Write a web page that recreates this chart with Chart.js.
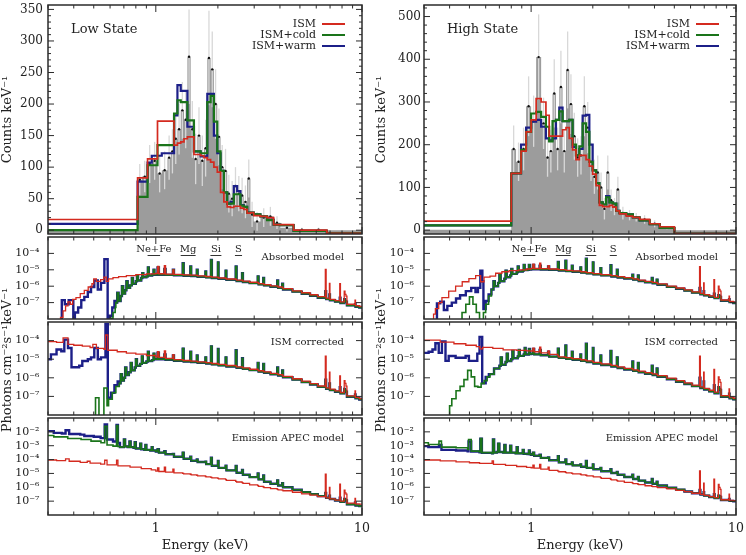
<!DOCTYPE html>
<html><head><meta charset="utf-8">
<script src="https://cdn.jsdelivr.net/npm/chart.js@4.4.1/dist/chart.umd.min.js"></script>
<style>
html,body{margin:0;padding:0;background:#fff;}
#wrap{position:relative;width:746px;height:555px;overflow:hidden;font-family:'DejaVu Serif',serif;color:#222;}
.pane{position:absolute;}
</style></head>
<body><div id="wrap"></div>
<script>
// ---------------- DATA: top panels (counts keV^-1) ----------------
const lowEdges = [0.3,0.816,0.856,0.912,0.956,1.019,1.069,1.139,1.182,1.226,1.273,1.321,1.370,1.423,1.476,1.531,1.590,1.650,1.712,1.777,1.844,1.913,1.987,2.061,2.138,2.220,2.303,2.389,2.481,2.574,2.670,2.773,2.877,2.985,3.216,3.464,3.728,4.017,4.657,5.609,6.753,10];
const lowData  = [1,80,85,105,110,90,95,115,125,145,160,190,175,275,160,113,150,110,130,273,255,200,148,100,94,58,50,70,58,55,45,82,25,14,20,22,12,4,1,1,0];
const lowErr   = [0,25,25,30,30,30,30,35,35,40,40,45,45,75,45,40,45,40,45,75,60,55,45,35,35,30,28,30,28,28,26,30,20,15,15,15,10,6,3,3,0];
const lowIsm   = [17,83,83,113,113,173,173,173,173,135,138,140,145,148,148,120,120,118,115,112,108,100,92,60,45,37,36,38,38,35,33,27,28,23,22,20,9,9,0,0,-5];
const lowCold  = [0,53,53,103,103,135,135,135,135,185,206,203,203,174,174,125,125,122,122,203,213,172,125,94,60,42,42,57,57,39,37,28,28,25,22,16,9,8,-1,-1,-5];
const lowWarm  = [10,77,77,107,118,118,122,122,122,182,230,221,221,164,164,125,125,117,117,216,216,150,122,94,60,42,45,70,62,40,37,28,28,25,22,17,9,8,-1,-1,-5];

const highEdges = [0.3,0.800,0.844,0.893,0.945,1.000,1.058,1.119,1.181,1.225,1.272,1.322,1.372,1.424,1.480,1.535,1.594,1.656,1.719,1.784,1.854,1.924,1.997,2.076,2.154,2.236,2.323,2.412,2.503,2.602,2.700,2.913,3.137,3.383,3.788,4.242,5.006,10];
const highData = [1,190,160,190,290,255,405,250,170,185,320,190,335,185,375,295,220,170,175,290,240,160,125,135,100,50,135,70,55,95,40,35,30,25,15,5,0];
const highErr  = [0,55,45,50,70,60,100,60,45,50,80,50,85,50,90,70,55,45,45,70,60,45,40,40,35,25,40,25,20,30,15,12,10,10,8,4,0];
const highIsm  = [21,133,133,185,230,258,308,300,269,220,220,220,220,235,240,215,188,165,175,175,165,150,131,104,58,55,55,58,54,45,38,33,30,25,15,8,-8];
const highCold = [11,133,133,188,230,273,277,265,242,208,255,258,278,255,255,258,200,175,196,250,230,160,140,110,65,60,77,65,62,45,40,37,30,23,14,5,-8];
const highWarm = [11,133,133,200,240,254,258,242,215,210,215,258,287,255,255,258,195,175,190,268,270,200,140,110,65,60,80,65,62,45,40,37,30,23,14,5,-8];

// ---------------- DATA: model spectra, log10(photons cm^-2 s^-1 keV^-1) ----------------
const lineE = [1.00,1.02,1.035,1.10,1.115,1.21,1.225,1.35,1.365,1.47,1.485,1.58,1.595,1.74,1.755,1.85,1.87,2.00,2.015,2.18,2.20,2.44,2.465,2.62,2.645,2.85,3.12,3.15,3.32,3.35,3.6,3.88,3.92,4.10,4.14,4.6,5.1,5.6,6.1,6.64,6.70,6.95,6.99,7.4,7.8,7.86,8.2,8.27,8.36,8.45,9.25,9.3,9.7,10.0];

const absLow_ismE  = [0.3,0.345,0.355,0.365,0.375,0.385,0.395,0.41,0.43,0.45,0.47,0.49,0.50,0.515,0.54,0.56,0.575,0.59,0.62,0.66,0.72,0.8,0.9];
const absLow_ismV  = [-9,-7.9,-7.5,-7.2,-6.95,-7.1,-6.8,-6.7,-6.45,-6.25,-6.05,-5.85,-5.55,-5.7,-5.6,-5.45,-5.7,-5.55,-5.48,-5.42,-5.36,-5.3,-5.25];
const absLow_warmE = [0.3,0.35,0.362,0.378,0.398,0.405,0.42,0.435,0.45,0.468,0.485,0.503,0.523,0.542,0.563,0.584,0.60,0.615,0.63];
const absLow_warmV = [-9,-6.85,-7.1,-6.85,-9,-7.6,-7.3,-6.85,-6.65,-6.35,-6.05,-5.65,-6.2,-5.8,-4.35,-9,-7.8,-7.3,-6.9];
const absLow_coldE = [0.3,0.605,0.62,0.635];
const absLow_coldV = [-9,-7.95,-7.6,-7.3];
const absLow_midE  = [0.64,0.65,0.66,0.675,0.685,0.695,0.71,0.72,0.73,0.75,0.765,0.775,0.80,0.81,0.82,0.85,0.86,0.87,0.90,0.915,0.925,0.96,0.975,0.985];
const absLow_midV  = [-7.0,-6.4,-6.9,-6.6,-6.0,-6.45,-6.25,-5.7,-6.1,-5.95,-5.5,-5.85,-5.7,-5.35,-5.65,-5.5,-5.2,-5.45,-5.4,-4.85,-5.35,-5.3,-5.0,-5.3];
const absLow_darkV = [-5.30,-4.85,-5.30,-4.95,-5.31,-5.0,-5.33,-4.6,-5.36,-4.8,-5.38,-5.0,-5.42,-5.1,-5.46,-4.4,-5.5,-4.55,-5.55,-5.05,-5.61,-4.8,-5.68,-5.2,-5.74,-5.81,-5.4,-5.89,-5.5,-5.95,-6.03,-5.65,-6.1,-5.85,-6.2,-6.33,-6.46,-6.58,-6.7,-6.3,-6.79,-6.5,-6.86,-6.94,-6.7,-7.02,-6.8,-6.9,-6.95,-7.17,-7.1,-7.25,-7.3,-7.33];
const absLow_redV  = [-5.22,-4.8,-5.24,-4.75,-5.26,-5.0,-5.28,-5.3,-5.31,-5.32,-5.33,-5.34,-5.37,-5.4,-5.41,-5.42,-5.45,-5.46,-5.5,-5.52,-5.56,-5.58,-5.63,-5.65,-5.69,-5.76,-5.78,-5.84,-5.86,-5.9,-5.98,-6.0,-6.05,-6.07,-6.15,-6.28,-6.4,-6.52,-6.64,-4.97,-6.73,-5.83,-6.8,-6.88,-5.85,-6.96,-6.3,-6.5,-6.6,-7.1,-6.85,-7.18,-7.23,-7.26];

const corLow_ismE  = [0.3,0.33,0.355,0.375,0.40,0.44,0.48,0.495,0.515,0.56,0.57,0.585,0.65,0.72,0.80,0.90];
const corLow_ismV  = [-4.05,-4.1,-3.85,-4.2,-4.25,-4.3,-4.37,-4.2,-4.42,-4.47,-3.7,-4.52,-4.6,-4.67,-4.73,-4.8];
const corLow_warmE = [0.3,0.31,0.33,0.348,0.36,0.375,0.39,0.425,0.44,0.468,0.485,0.503,0.523,0.542,0.57,0.585,0.606,0.63,0.653];
const corLow_warmV = [-5.0,-4.74,-4.48,-4.57,-3.95,-4.4,-5.43,-5.35,-5.1,-5.0,-4.9,-4.4,-5.0,-4.9,-3.1,-7.07,-6.8,-6.4,-6.2];
const corLow_coldE = [0.3,0.51,0.53,0.56,0.58,0.59,0.615,0.64];
const corLow_coldV = [-9,-7.07,-9,-6.55,-7.5,-7.15,-6.8,-6.47];
const corLow_midE  = [0.665,0.675,0.685,0.70,0.71,0.72,0.74,0.755,0.765,0.79,0.80,0.81,0.84,0.855,0.865,0.90,0.915,0.925,0.96,0.975,0.985];
const corLow_midV  = [-6.3,-5.8,-6.15,-6.0,-5.45,-5.85,-5.7,-5.2,-5.6,-5.45,-5.0,-5.35,-5.25,-4.85,-5.2,-5.12,-4.6,-5.1,-5.05,-4.7,-5.0];
const corLow_darkV = [-5.0,-4.65,-5.0,-4.75,-5.03,-4.8,-5.08,-4.43,-5.12,-4.6,-5.15,-4.8,-5.19,-4.9,-5.23,-4.31,-5.28,-4.45,-5.33,-4.9,-5.39,-4.52,-5.46,-4.95,-5.52,-5.59,-5.2,-5.67,-5.25,-5.73,-5.81,-5.45,-5.88,-5.6,-5.97,-6.1,-6.23,-6.36,-6.49,-6.1,-6.59,-6.3,-6.66,-6.75,-6.5,-6.84,-6.6,-6.7,-6.75,-7.02,-6.9,-7.1,-7.17,-7.2];
const corLow_redV  = [-4.87,-4.6,-4.9,-4.55,-4.96,-4.75,-5.02,-5.05,-5.07,-5.09,-5.1,-5.12,-5.14,-5.16,-5.18,-5.2,-5.23,-5.25,-5.28,-5.3,-5.34,-5.36,-5.41,-5.43,-5.47,-5.54,-5.57,-5.62,-5.64,-5.68,-5.76,-5.79,-5.83,-5.85,-5.92,-6.05,-6.18,-6.31,-6.44,-4.83,-6.54,-5.7,-6.61,-6.7,-5.9,-6.79,-6.15,-6.3,-6.45,-6.97,-6.7,-7.05,-7.12,-7.15];

const apecLow_ismE  = [0.3,0.33,0.365,0.38,0.43,0.465,0.48,0.54,0.565,0.58,0.645,0.655,0.75,0.85,0.95];
const apecLow_ismV  = [-4.03,-4.07,-3.95,-4.12,-4.2,-4.12,-4.25,-4.33,-4.05,-4.38,-4.05,-4.45,-4.55,-4.65,-4.75];
const apecLow_warmE = [0.3,0.32,0.35,0.365,0.38,0.43,0.45,0.50,0.54,0.565,0.58,0.62,0.645,0.655];
const apecLow_warmV = [-1.95,-2.07,-2.12,-1.88,-2.15,-2.2,-2.3,-2.35,-2.45,-1.47,-2.55,-2.7,-1.5,-2.8];
const apecLow_coldE = [0.3,0.32,0.374,0.434,0.485,0.542,0.565,0.58,0.62,0.645,0.655];
const apecLow_coldV = [-2.26,-2.36,-2.48,-2.55,-2.67,-2.79,-1.6,-2.95,-3.03,-1.55,-3.05];
const apecLow_midE  = [0.67,0.70,0.71,0.73,0.745,0.755,0.78,0.79,0.80,0.83,0.84,0.85,0.88,0.89,0.90,0.94,0.955,0.965];
const apecLow_midV  = [-3.1,-2.55,-3.05,-3.1,-2.7,-3.1,-3.15,-2.75,-3.2,-3.2,-2.85,-3.25,-3.3,-2.95,-3.3,-3.35,-3.1,-3.35];
const apecLow_darkV = [-3.42,-3.25,-3.5,-3.4,-3.62,-3.6,-3.8,-3.5,-3.94,-3.8,-4.08,-4.0,-4.18,-4.15,-4.33,-3.87,-4.45,-4.1,-4.6,-4.45,-4.78,-4.46,-4.95,-4.75,-5.1,-5.27,-5.0,-5.43,-5.15,-5.6,-5.75,-5.5,-5.87,-5.7,-6.0,-6.18,-6.35,-6.49,-6.64,-6.4,-6.76,-6.6,-6.85,-6.95,-6.75,-7.05,-6.85,-6.9,-6.95,-7.23,-7.1,-7.31,-7.36,-7.38];
const apecLow_redV  = [-4.83,-4.6,-4.86,-4.55,-4.9,-4.7,-4.96,-5.0,-5.03,-5.06,-5.1,-5.13,-5.18,-5.22,-5.25,-5.28,-5.32,-5.35,-5.4,-5.44,-5.5,-5.57,-5.62,-5.67,-5.72,-5.82,-5.88,-5.93,-5.98,-6.02,-6.1,-6.15,-6.18,-6.2,-6.25,-6.36,-6.47,-6.57,-6.68,-5.06,-6.77,-6.0,-6.84,-6.92,-5.78,-7.0,-6.2,-6.4,-6.5,-7.14,-6.8,-7.19,-7.21,-7.22];

const absHigh_ismE  = [0.3,0.334,0.341,0.354,0.367,0.396,0.428,0.461,0.497,0.536,0.567,0.589,0.63,0.671,0.72,0.78,0.87,0.95];
const absHigh_ismV  = [-9,-7.7,-7.37,-7.0,-6.7,-6.3,-6.0,-5.73,-5.54,-5.35,-5.73,-5.45,-5.38,-5.21,-5.12,-5.05,-5.0,-4.95];
const absHigh_warmE = [0.3,0.347,0.36,0.375,0.39,0.41,0.43,0.45,0.48,0.51,0.535,0.55,0.565,0.578,0.585,0.60,0.62];
const absHigh_warmV = [-9,-7.05,-6.95,-7.45,-7.2,-7.0,-6.75,-6.55,-6.3,-6.1,-6.35,-6.1,-5.05,-5.7,-7.4,-6.9,-6.5];
const absHigh_coldE = [0.3,0.46,0.48,0.50,0.52,0.54,0.56,0.585,0.60,0.62];
const absHigh_coldV = [-9,-7.6,-7.1,-6.65,-7.1,-7.6,-9,-7.6,-7.1,-6.6];
const absHigh_midE  = [0.64,0.655,0.665,0.69,0.70,0.71,0.74,0.75,0.76,0.79,0.80,0.81,0.85,0.86,0.87,0.91,0.92,0.93,0.96,0.975,0.985];
const absHigh_midV  = [-6.2,-5.7,-6.0,-5.8,-5.3,-5.7,-5.55,-5.05,-5.45,-5.35,-4.95,-5.25,-5.15,-4.8,-5.1,-5.05,-4.7,-5.02,-5.0,-4.7,-4.98];
const absHigh_darkV = [-4.97,-4.7,-4.97,-4.75,-4.98,-4.8,-5.0,-4.52,-5.04,-4.45,-5.08,-4.75,-5.12,-4.85,-5.17,-4.33,-5.22,-4.55,-5.28,-4.9,-5.34,-4.72,-5.41,-5.0,-5.47,-5.53,-5.3,-5.6,-5.35,-5.68,-5.76,-5.5,-5.82,-5.6,-5.91,-6.04,-6.16,-6.27,-6.39,-6.1,-6.49,-6.3,-6.56,-6.64,-6.45,-6.73,-6.55,-6.6,-6.65,-6.89,-6.8,-6.97,-7.02,-7.05];
const absHigh_redV  = [-4.91,-4.65,-4.92,-4.6,-4.93,-4.75,-4.95,-4.97,-4.99,-5.01,-5.03,-5.05,-5.07,-5.1,-5.12,-5.14,-5.17,-5.2,-5.23,-5.26,-5.29,-5.32,-5.36,-5.38,-5.42,-5.48,-5.51,-5.55,-5.58,-5.63,-5.71,-5.74,-5.77,-5.79,-5.86,-5.99,-6.11,-6.22,-6.34,-4.81,-6.44,-5.8,-6.51,-6.59,-5.6,-6.68,-6.0,-6.2,-6.3,-6.84,-6.6,-6.92,-6.97,-7.0];

const corHigh_ismE  = [0.3,0.36,0.42,0.48,0.54,0.562,0.58,0.65,0.73,0.85,0.95];
const corHigh_ismV  = [-3.97,-4.08,-4.17,-4.25,-4.32,-4.45,-4.36,-4.42,-4.5,-4.53,-4.55];
const corHigh_warmE = [0.3,0.316,0.33,0.341,0.354,0.367,0.382,0.396,0.428,0.479,0.497,0.546,0.56,0.577,0.60,0.622,0.659];
const corHigh_warmV = [-4.66,-4.6,-4.48,-4.14,-4.66,-4.05,-5.09,-4.83,-4.92,-4.83,-5.09,-4.7,-3.8,-6.3,-5.95,-5.8,-5.5];
const corHigh_coldE = [0.3,0.40,0.41,0.43,0.45,0.47,0.49,0.51,0.53,0.55,0.57,0.59,0.61,0.63,0.66];
const corHigh_coldV = [-9,-7.5,-7.13,-6.7,-6.46,-6.1,-5.6,-5.95,-6.46,-6.5,-6.3,-6.15,-5.95,-5.8,-5.5];
const corHigh_midE  = [0.70,0.71,0.72,0.75,0.76,0.77,0.80,0.81,0.82,0.86,0.87,0.88,0.92,0.93,0.94,0.975,0.985];
const corHigh_midV  = [-5.35,-4.9,-5.3,-5.15,-4.7,-5.1,-5.0,-4.55,-4.95,-4.85,-4.5,-4.82,-4.75,-4.4,-4.75,-4.45,-4.72];
const corHigh_darkV = [-4.71,-4.45,-4.74,-4.5,-4.79,-4.6,-4.86,-4.43,-4.93,-4.26,-4.98,-4.6,-5.03,-4.75,-5.09,-4.17,-5.15,-4.4,-5.23,-4.8,-5.31,-4.55,-5.39,-4.9,-5.47,-5.55,-5.12,-5.63,-5.2,-5.7,-5.78,-5.35,-5.85,-5.5,-5.94,-6.08,-6.21,-6.33,-6.45,-6.0,-6.55,-6.2,-6.63,-6.73,-6.4,-6.83,-6.5,-6.6,-6.65,-7.02,-6.85,-7.1,-7.16,-7.19];
const corHigh_redV  = [-4.56,-4.4,-4.6,-4.35,-4.66,-4.55,-4.74,-4.82,-4.87,-4.9,-4.92,-4.95,-4.97,-5.0,-5.03,-5.06,-5.09,-5.13,-5.17,-5.2,-5.25,-5.29,-5.33,-5.37,-5.41,-5.49,-5.53,-5.57,-5.6,-5.64,-5.72,-5.76,-5.79,-5.82,-5.88,-6.02,-6.15,-6.27,-6.39,-4.83,-6.49,-5.7,-6.57,-6.67,-5.55,-6.77,-5.95,-6.1,-6.25,-6.96,-6.6,-7.04,-7.1,-7.13];

const apecHigh_ismE  = [0.3,0.36,0.43,0.50,0.56,0.645,0.655,0.75,0.85,0.95];
const apecHigh_ismV  = [-4.03,-4.1,-4.17,-4.23,-4.27,-4.1,-4.34,-4.42,-4.5,-4.56];
const apecHigh_warmE = [0.3,0.315,0.355,0.365,0.43,0.49,0.495,0.51,0.56,0.565,0.575,0.645,0.651,0.66];
const apecHigh_warmV = [-3.03,-3.1,-2.95,-3.3,-3.35,-3.4,-2.7,-3.42,-3.47,-2.5,-3.52,-3.55,-2.55,-3.5];
const apecHigh_coldE = [0.3,0.315,0.355,0.365,0.43,0.49,0.495,0.51,0.56,0.565,0.575,0.645,0.651,0.66];
const apecHigh_coldV = [-2.79,-2.91,-2.67,-3.1,-3.15,-3.27,-2.55,-3.39,-3.45,-2.48,-3.5,-3.55,-2.55,-3.5];
const apecHigh_midE  = [0.68,0.69,0.70,0.73,0.74,0.75,0.78,0.79,0.80,0.84,0.85,0.86,0.90,0.91,0.92,0.96,0.975,0.985];
const apecHigh_midV  = [-3.45,-2.85,-3.45,-3.5,-2.95,-3.5,-3.5,-3.0,-3.5,-3.55,-3.1,-3.55,-3.55,-3.3,-3.58,-3.6,-3.35,-3.62];
const apecHigh_darkV = [-3.65,-3.5,-3.72,-3.65,-3.88,-3.85,-4.05,-3.75,-4.2,-4.0,-4.33,-4.2,-4.42,-4.35,-4.52,-4.1,-4.6,-4.35,-4.7,-4.6,-4.84,-4.7,-4.97,-4.9,-5.1,-5.26,-5.1,-5.4,-5.25,-5.52,-5.65,-5.4,-5.75,-5.6,-5.87,-6.03,-6.17,-6.3,-6.43,-6.2,-6.52,-6.35,-6.6,-6.7,-6.5,-6.78,-6.6,-6.65,-6.7,-6.92,-6.85,-6.98,-7.01,-7.02];
const apecHigh_redV  = [-4.59,-4.4,-4.62,-4.35,-4.69,-4.55,-4.78,-4.84,-4.88,-4.92,-4.96,-5.0,-5.03,-5.06,-5.1,-5.13,-5.17,-5.2,-5.25,-5.3,-5.36,-5.42,-5.47,-5.52,-5.56,-5.65,-5.7,-5.74,-5.78,-5.81,-5.89,-5.93,-5.95,-5.97,-6.02,-6.12,-6.22,-6.32,-6.43,-4.82,-6.51,-5.7,-6.59,-6.67,-5.42,-6.75,-5.8,-6.0,-6.15,-6.9,-6.5,-6.94,-6.96,-6.97];

// axis ticks and labels
const countTicksLow = [0,50,100,150,200,250,300,350];
const countTicksHigh = [0,100,200,300,400,500];
const logTicksAbs = [-4,-5,-6,-7];
const logTicksApec = [-2,-3,-4,-5,-6,-7];
const xMajor = [1,10];
const xMinor = [0.3,0.4,0.5,0.6,0.7,0.8,0.9,2,3,4,5,6,7,8,9];
const legendNames = ['ISM','ISM+cold','ISM+warm'];
const bandNames = ['Ne+Fe','Mg','Si','S'];
const bandLo = [0.912,1.32,1.84,2.42];
const bandHi = [1.049,1.56,2.08,2.62];
const photonsTitle = 'Photons cm\u207B\u00B2s\u207B\u00B9keV\u207B\u00B9';
const countsTitle = 'Counts keV\u207B\u00B9';

// ---------------- rendering ----------------
const RED='#d42a1f', GREEN='#1a741a', BLUE='#1c1f88', GRAY='#9c9c9c';
const FONT="'DejaVu Serif', serif";
Chart.defaults.font.family = FONT;
Chart.defaults.color = '#222';
const SUP={'-':'\u207B','0':'\u2070','1':'\u00B9','2':'\u00B2','3':'\u00B3','4':'\u2074','5':'\u2075','6':'\u2076','7':'\u2077','8':'\u2078','9':'\u2079'};
const pow10 = v => '10' + String(v).split('').map(c=>SUP[c]).join('');

const wrap = document.getElementById('wrap');
const COLS=[{L:48,R:362,axw:48},{L:424,R:736,axw:51}];
const ROWS=[{t:5,b:237},{t:237,b:322},{t:322,b:418},{t:418,b:515}];

function drawErr(chart, ex){
  const {ctx, chartArea:a, scales:{x,y}} = chart;
  ctx.save();
  ctx.beginPath(); ctx.rect(a.left,a.top,a.right-a.left,a.bottom-a.top); ctx.clip();
  ctx.strokeStyle='#d8d8d8'; ctx.lineWidth=1.3;
  const cx = [];
  for (let i=0;i<ex.vals.length;i++){
    cx.push(x.getPixelForValue(Math.sqrt(ex.edges[i]*ex.edges[i+1])));
    if (ex.err[i]<=0) continue;
    ctx.beginPath();
    ctx.moveTo(cx[i], y.getPixelForValue(ex.vals[i]-ex.err[i]));
    ctx.lineTo(cx[i], y.getPixelForValue(ex.vals[i]+ex.err[i]));
    ctx.stroke();
  }
  ctx.fillStyle='#111';
  for (let i=0;i<ex.vals.length;i++){
    if (ex.err[i]<=0) continue;
    ctx.beginPath(); ctx.arc(cx[i], y.getPixelForValue(ex.vals[i]), 1.2, 0, Math.PI*2); ctx.fill();
  }
  ctx.restore();
}

const framePlugin = {
  id:'frame',
  afterDatasetDraw(chart,args){
    const ex = chart.canvas._extra;
    if (ex.err && args.index===0) drawErr(chart, ex);
  },
  afterDatasetsDraw(chart){
    const ex = chart.canvas._extra;
    const {ctx, chartArea:a, scales:{x,y}} = chart;
    ctx.save();
    ctx.strokeStyle='#2b2b2b'; ctx.lineWidth=1;
    ctx.beginPath();
    const xt=(v,len)=>{const p=x.getPixelForValue(v); ctx.moveTo(p,a.bottom); ctx.lineTo(p,a.bottom-len); ctx.moveTo(p,a.top); ctx.lineTo(p,a.top+len);};
    xMinor.forEach(v=>xt(v,3.5)); xMajor.forEach(v=>xt(v,7));
    const yt=(v,len)=>{const p=y.getPixelForValue(v); ctx.moveTo(a.left,p); ctx.lineTo(a.left+len,p); ctx.moveTo(a.right,p); ctx.lineTo(a.right-len,p);};
    ex.yMajor.forEach(v=>yt(v,6)); (ex.yMinor||[]).forEach(v=>yt(v,3));
    ctx.stroke();
    ctx.lineWidth=1.5;
    ctx.strokeRect(a.left,a.top,a.right-a.left,a.bottom-a.top);
    ctx.fillStyle='#222';
    if (ex.title){
      ctx.font='13px '+FONT; ctx.textAlign='left'; ctx.textBaseline='middle';
      ctx.fillText(ex.title, a.left+23, a.top+25);
    }
    if (ex.legend){
      ctx.font='11px '+FONT; ctx.textAlign='right'; ctx.textBaseline='middle';
      const cols=[RED,GREEN,BLUE];
      legendNames.forEach((n,i)=>{
        const yy=a.top+19+i*11;
        ctx.fillStyle='#222'; ctx.fillText(n, a.right-46, yy);
        ctx.strokeStyle=cols[i]; ctx.lineWidth=2; ctx.beginPath(); ctx.moveTo(a.right-40,yy); ctx.lineTo(a.right-17,yy); ctx.stroke();
      });
    }
    if (ex.label){
      ctx.fillStyle='#222'; ctx.font='10px '+FONT; ctx.textAlign='right'; ctx.textBaseline='middle';
      ctx.fillText(ex.label, a.right-18, a.top+20);
    }
    if (ex.bands){
      ctx.fillStyle='#222'; ctx.font='10px '+FONT; ctx.textAlign='center'; ctx.textBaseline='middle';
      ctx.strokeStyle='#333'; ctx.lineWidth=1;
      bandNames.forEach((n,i)=>{
        const x0=x.getPixelForValue(bandLo[i]), x1=x.getPixelForValue(bandHi[i]);
        ctx.fillText(n,(x0+x1)/2,a.top+12);
        ctx.beginPath(); ctx.moveTo(x0,a.top+18.5); ctx.lineTo(x1,a.top+18.5); ctx.stroke();
      });
    }
    ctx.restore();
  }
};

function panel(col,row,datasets,yc,extra){
  const g=COLS[col], r=ROWS[row];
  const padT=3, padR=10, bottom=(row===3);
  const padB=bottom?555-r.b:3;
  const w=g.R-g.L+g.axw+padR, h=r.b-r.t+padT+padB;
  const div=document.createElement('div'); div.className='pane';
  div.style.left=(g.L-g.axw)+'px'; div.style.top=(r.t-padT)+'px';
  div.style.width=w+'px'; div.style.height=h+'px';
  const cv=document.createElement('canvas'); cv.width=w; cv.height=h;
  cv.style.width=w+'px'; cv.style.height=h+'px';
  div.appendChild(cv); wrap.appendChild(div);
  extra.yMajor=yc.ticks;
  cv._extra=extra;
  new Chart(cv,{
    type:'line',
    data:{datasets},
    options:{
      responsive:false, animation:false, events:[],
      layout:{padding:{left:0,top:padT,right:padR,bottom:bottom?0:padB}},
      plugins:{legend:{display:false},tooltip:{enabled:false}},
      scales:{
        x:{type:'logarithmic',min:0.3,max:10,display:bottom,
           grid:{display:false,drawTicks:false},border:{display:false},
           afterBuildTicks:ax=>{ax.ticks=xMajor.map(v=>({value:v}));},
           ticks:{autoSkip:false,maxRotation:0,padding:6,font:{size:12.5},color:'#222',callback:v=>String(v)},
           afterFit:ax=>{ax.height=padB; ax.paddingLeft=0; ax.paddingRight=0;},
           title:{display:true,text:'Energy (keV)',font:{size:13},color:'#222',padding:{top:0,bottom:2}}},
        y:{type:'linear',min:yc.min,max:yc.max,
           grid:{display:false,drawTicks:false},border:{display:false},
           afterBuildTicks:ax=>{ax.ticks=yc.ticks.map(v=>({value:v}));},
           ticks:{autoSkip:false,padding:yc.pad,font:{size:yc.fs},color:'#222',callback:yc.fmt},
           afterFit:ax=>{ax.width=g.axw; ax.paddingTop=0; ax.paddingBottom=0;},
           title:{display:!!yc.title,text:yc.title||'',font:{size:13},color:'#222',padding:{top:col?1:0,bottom:0}}}
      }
    },
    plugins:[framePlugin]
  });
}

// stepped 'before': each value holds from its own x until the next x
function stepPts(E,V){ return E.map((e,i)=>({x:e,y:V[Math.min(i,V.length-1)]})); }
function line(data,color,width,order){ return {data,stepped:'before',borderColor:color,borderWidth:width,pointRadius:0,fill:false,order}; }
function histSets(edges,data,ism,cold,warm){
  return [
    {data:stepPts(edges,data),stepped:'before',fill:'start',backgroundColor:GRAY,borderWidth:0,pointRadius:0,order:10},
    line(stepPts(edges,warm),BLUE,2.2,3),
    line(stepPts(edges,cold),GREEN,2.2,2),
    line(stepPts(edges,ism),RED,1.7,1)
  ];
}
function specSets(ismE,ismV,warmE,warmV,coldE,coldV,midE,midV,darkV,redV){
  return [
    line(stepPts([...warmE,...midE,...lineE],[...warmV,...midV,...darkV]),BLUE,2.4,3),
    line(stepPts([...coldE,...midE,...lineE],[...coldV,...midV,...darkV]),GREEN,1.6,2),
    line(stepPts([...ismE,...lineE],[...ismV,...redV]),RED,1.3,1)
  ];
}

const countFmt = v=>String(v);
const minor = (lo,hi,st,skip)=>{const a=[]; for(let v=lo; v<=hi; v+=st){ if (v%skip!==0) a.push(v);} return a;};

panel(0,0,histSets(lowEdges,lowData,lowIsm,lowCold,lowWarm),
  {min:-6,max:357,ticks:countTicksLow,fmt:countFmt,pad:5,fs:12,title:countsTitle},
  {err:lowErr,vals:lowData,edges:lowEdges,title:'Low State',legend:true,yMinor:minor(10,350,10,50)});
panel(1,0,histSets(highEdges,highData,highIsm,highCold,highWarm),
  {min:-9,max:527,ticks:countTicksHigh,fmt:countFmt,pad:3,fs:12,title:countsTitle},
  {err:highErr,vals:highData,edges:highEdges,title:'High State',legend:true,yMinor:minor(20,520,20,100)});

const absY = col=>({min:-8,max:-3,ticks:logTicksAbs,fmt:pow10,pad:col?10:8.5,fs:11});
const apecY = col=>({min:-8,max:-1,ticks:logTicksApec,fmt:pow10,pad:col?10:8.5,fs:11});

panel(0,1,specSets(absLow_ismE,absLow_ismV,absLow_warmE,absLow_warmV,absLow_coldE,absLow_coldV,absLow_midE,absLow_midV,absLow_darkV,absLow_redV),absY(0),{label:'Absorbed model',bands:true});
panel(0,2,specSets(corLow_ismE,corLow_ismV,corLow_warmE,corLow_warmV,corLow_coldE,corLow_coldV,corLow_midE,corLow_midV,corLow_darkV,corLow_redV),absY(0),{label:'ISM corrected'});
panel(0,3,specSets(apecLow_ismE,apecLow_ismV,apecLow_warmE,apecLow_warmV,apecLow_coldE,apecLow_coldV,apecLow_midE,apecLow_midV,apecLow_darkV,apecLow_redV),apecY(0),{label:'Emission APEC model'});

panel(1,1,specSets(absHigh_ismE,absHigh_ismV,absHigh_warmE,absHigh_warmV,absHigh_coldE,absHigh_coldV,absHigh_midE,absHigh_midV,absHigh_darkV,absHigh_redV),absY(1),{label:'Absorbed model',bands:true});
panel(1,2,specSets(corHigh_ismE,corHigh_ismV,corHigh_warmE,corHigh_warmV,corHigh_coldE,corHigh_coldV,corHigh_midE,corHigh_midV,corHigh_darkV,corHigh_redV),absY(1),{label:'ISM corrected'});
panel(1,3,specSets(apecHigh_ismE,apecHigh_ismV,apecHigh_warmE,apecHigh_warmV,apecHigh_coldE,apecHigh_coldV,apecHigh_midE,apecHigh_midV,apecHigh_darkV,apecHigh_redV),apecY(1),{label:'Emission APEC model'});

// shared rotated y titles for the three spectra panels (canvas text)
[[0,8],[373,9]].forEach(([left,cx])=>{
  const cv=document.createElement('canvas'); cv.width=20; cv.height=300;
  cv.style.cssText=`position:absolute;left:${left}px;top:210px;width:20px;height:300px;z-index:5;`;
  wrap.appendChild(cv);
  const c=cv.getContext('2d');
  c.translate(cx,150); c.rotate(-Math.PI/2);
  c.font='13px '+FONT; c.fillStyle='#222'; c.textAlign='center'; c.textBaseline='middle';
  c.fillText(photonsTitle,0,0);
});
</script>
</body></html>
